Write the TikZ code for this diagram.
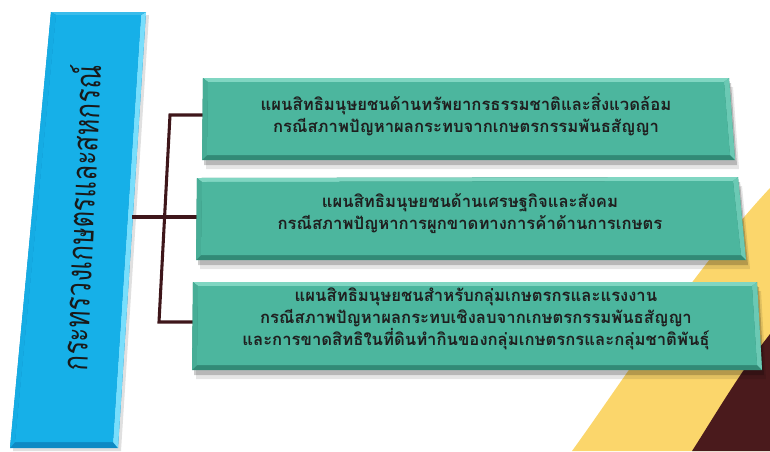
\documentclass[tikz,border=0pt]{standalone}
\usepackage{fontspec}
\newfontfamily\thaifont[Script=Thai]{Loma}
\usetikzlibrary{calc}

\definecolor{barblue}{RGB}{22,176,232}
\definecolor{barlight}{RGB}{120,222,252}
\definecolor{bardark}{RGB}{14,138,196}
\definecolor{planfill}{RGB}{76,182,158}
\definecolor{planlight}{RGB}{128,214,194}
\definecolor{plandark}{RGB}{50,138,118}
\definecolor{linkbrown}{RGB}{62,22,26}
\definecolor{swoopyellow}{RGB}{251,214,107}
\definecolor{swoopbrown}{RGB}{74,26,28}

% bevelled green box from its four corners: TL, TR, BR, BL
\newcommand{\planshape}[4]{%
  \fill[black,opacity=0.10] ($(#1)+(4,9)$) -- ($(#2)+(4,9)$) -- ($(#3)+(4,9)$) -- ($(#4)+(4,9)$) -- cycle;
  \fill[black,opacity=0.20] ($(#1)+(2,5)$) -- ($(#2)+(2,5)$) -- ($(#3)+(2,5)$) -- ($(#4)+(2,5)$) -- cycle;
  \fill[plandark] (#1) -- (#2) -- (#3) -- (#4) -- cycle;
  \fill[planlight] (#1) -- (#2) -- ($(#2)+(-5,4)$) -- ($(#1)+(5,4)$) -- cycle;
  \fill[planlight!60!planfill] (#2) -- (#3) -- ($(#3)+(-5,-5)$) -- ($(#2)+(-5,4)$) -- cycle;
  \fill[planfill!80!plandark] (#1) -- ($(#1)+(5,4)$) -- ($(#4)+(5,-5)$) -- (#4) -- cycle;
  \fill[planfill] ($(#1)+(5,4)$) -- ($(#2)+(-5,4)$) -- ($(#3)+(-5,-5)$) -- ($(#4)+(5,-5)$) -- cycle;
}

\begin{document}
\begin{tikzpicture}[x=0.75pt,y=0.75pt,yscale=-1,
    link/.style={draw=linkbrown, line width=2.3pt},
    plantext/.style={align=center, text=black!88, inner sep=0pt,
      font=\thaifont\bfseries\fontsize{12.5}{16.5}\selectfont},
    ministrytext/.style={text=black!90, inner sep=0pt,
      font=\thaifont\fontsize{22}{22}\selectfont}]
  \useasboundingbox (0,0) rectangle (770,451);

  %Background swoosh
  \fill[swoopyellow] (572,451) .. controls (615,392) and (695,268) .. (770,188) -- (770,451) -- cycle;
  \fill[swoopbrown] (692,451) .. controls (712,420) and (740,372) .. (770,334) -- (770,451) -- cycle;

  %Ministry bar
  \coordinate (bartl) at (51,12);
  \coordinate (bartr) at (146,12);
  \coordinate (barbr) at (118,448);
  \coordinate (barbl) at (10,448);
  \fill[black,opacity=0.12] ($(bartl)+(3,3)$) -- ($(bartr)+(3,3)$) -- ($(barbr)+(3,3)$) -- ($(barbl)+(3,3)$) -- cycle;
  \fill[bardark] (bartl) -- (bartr) -- (barbr) -- (barbl) -- cycle;
  \fill[barlight] (bartr) -- (barbr) -- ($(barbr)+(-5,-6)$) -- ($(bartr)+(-5,3)$) -- cycle;
  \fill[barblue!85!white] (bartl) -- (bartr) -- ($(bartr)+(-5,3)$) -- ($(bartl)+(5,3)$) -- cycle;
  \fill[barblue!90!bardark] (bartl) -- ($(bartl)+(5,3)$) -- ($(barbl)+(5,-6)$) -- (barbl) -- cycle;
  \fill[barblue] ($(bartl)+(5,3)$) -- ($(bartr)+(-5,3)$) -- ($(barbr)+(-5,-6)$) -- ($(barbl)+(5,-6)$) -- cycle;
  \node[ministrytext, rotate=87.3, xscale=0.88, yscale=1.2] (ministry) at (79,218) {กระทรวงเกษตรและสหกรณ์};

  %Connector
  \coordinate (barjoin) at (132,217);
  \coordinate (j1) at (170,115);
  \coordinate (j3) at (159,322);
  \coordinate (p1w) at (204,115);
  \coordinate (p2w) at (198,217);
  \coordinate (p3w) at (194,322);
  \draw[link] (p1w) -- (j1) -- (j3) -- (p3w);
  \draw[link] (barjoin) -- (p2w);

  %Plan boxes
  \planshape{203,78}{729,78}{735,160}{202,160}
  \planshape{197,178}{738,177}{746,260}{196,260}
  \planshape{193,282}{757,282}{762,370}{192,370}

  % Text Node
  \node[plantext] (plan1) at (466,115) {แผนสิทธิมนุษยชนด้านทรัพยากรธรรมชาติและสิ่งแวดล้อม\\กรณีสภาพปัญหาผลกระทบจากเกษตรกรรมพันธสัญญา};
  % Text Node
  \node[plantext] (plan2) at (470,214) {แผนสิทธิมนุษยชนด้านเศรษฐกิจและสังคม\\กรณีสภาพปัญหาการผูกขาดทางการค้าด้านการเกษตร};
  % Text Node
  \node[plantext] (plan3) at (476,319) {แผนสิทธิมนุษยชนสำหรับกลุ่มเกษตรกรและแรงงาน\\กรณีสภาพปัญหาผลกระทบเชิงลบจากเกษตรกรรมพันธสัญญา\\และการขาดสิทธิในที่ดินทำกินของกลุ่มเกษตรกรและกลุ่มชาติพันธุ์};
\end{tikzpicture}
\end{document}
